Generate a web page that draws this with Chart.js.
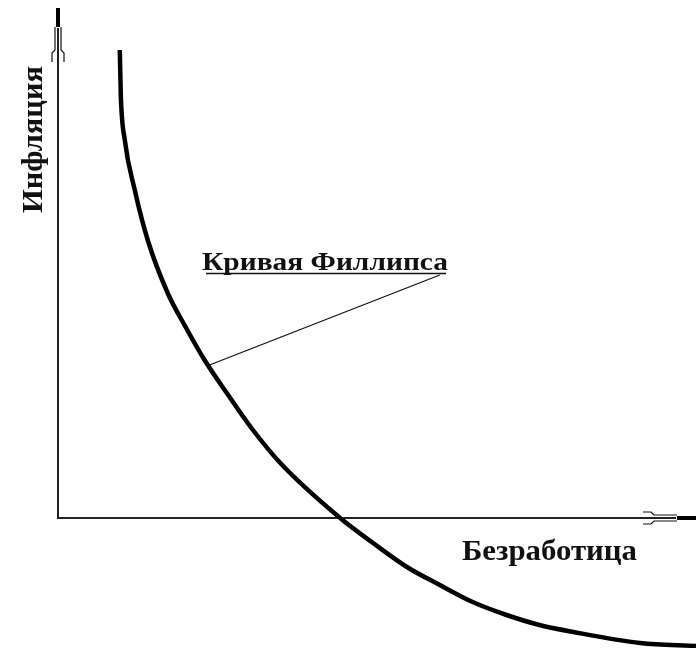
<!DOCTYPE html>
<html>
<head>
<meta charset="utf-8">
<script src="https://cdn.jsdelivr.net/npm/chart.js@4"></script>
<style>
  html, body { margin: 0; padding: 0; background: #fff; }
  #wrap { width: 696px; height: 648px; }
</style>
</head>
<body>
<div id="wrap"><canvas id="chart" width="696" height="648"></canvas></div>
<script>
// Phillips curve (axis units, origin at the axes' corner)
const curveX = [6.2, 6.3, 6.7, 7.7, 9.0, 11.0, 12.8, 14.7, 17.0, 19.4, 22.3, 28.3, 31.6, 35.0, 38.3, 41.6, 45.0, 48.3, 51.7, 58.4, 64.0];
const curveY = [46.8, 42.3, 37.8, 32.8, 27.8, 22.5, 19.1, 15.8, 12.4, 9.0, 5.5, 0, -2.5, -4.9, -6.7, -8.4, -9.7, -10.7, -11.4, -12.5, -12.8];

// leader line from the caption to the curve
const leaderX = [38.3, 15.2];
const leaderY = [24.3, 15.3];

const xTitle = "Безработица";
const yTitle = "Инфляция";
const curveTitle = "Кривая Филлипса";

const xRange = [0, 64];
const yRange = [-13, 51];

const toPoints = (xs, ys) => xs.map((x, i) => ({ x, y: ys[i] }));

// draw text squeezed/stretched horizontally to a given width
function fillFit(ctx, text, x, y, width) {
  const w = ctx.measureText(text).width;
  ctx.save();
  ctx.translate(x, y);
  ctx.scale(width / w, 1);
  ctx.fillText(text, 0, 0);
  ctx.restore();
}

const axesPlugin = {
  id: "axes",
  beforeDatasetsDraw(chart) {
    const { ctx } = chart;
    const sx = chart.scales.x, sy = chart.scales.y;
    const ox = sx.getPixelForValue(0);
    const oy = sy.getPixelForValue(0);
    const top = sy.getPixelForValue(yRange[1]);
    const right = sx.getPixelForValue(xRange[1]);

    ctx.save();
    ctx.strokeStyle = "#222";
    ctx.lineWidth = 2;
    ctx.beginPath();
    ctx.moveTo(ox, oy + 1);
    ctx.lineTo(ox, top + 20);
    ctx.moveTo(ox - 1, oy);
    ctx.lineTo(right - 20, oy);
    ctx.stroke();

    // thick tips
    ctx.lineWidth = 4;
    ctx.strokeStyle = "#000";
    ctx.beginPath();
    ctx.moveTo(ox, top);
    ctx.lineTo(ox, top + 19);
    ctx.moveTo(right - 19, oy);
    ctx.lineTo(right, oy);
    ctx.stroke();

    // double-line arrowheads
    ctx.lineWidth = 1.2;
    ctx.strokeStyle = "#111";
    ctx.beginPath();
    ctx.moveTo(ox - 3, top + 19); ctx.lineTo(ox - 3, top + 42);
    ctx.lineTo(ox - 6, top + 45); ctx.lineTo(ox - 6, top + 54);
    ctx.moveTo(ox + 3, top + 19); ctx.lineTo(ox + 3, top + 42);
    ctx.lineTo(ox + 6, top + 45); ctx.lineTo(ox + 6, top + 54);
    ctx.moveTo(right - 19, oy - 3); ctx.lineTo(right - 42, oy - 3);
    ctx.lineTo(right - 45, oy - 6); ctx.lineTo(right - 53, oy - 6);
    ctx.moveTo(right - 19, oy + 3); ctx.lineTo(right - 42, oy + 3);
    ctx.lineTo(right - 45, oy + 6); ctx.lineTo(right - 53, oy + 6);
    ctx.stroke();
    ctx.restore();
  },
  afterDatasetsDraw(chart) {
    const { ctx } = chart;
    ctx.save();
    ctx.fillStyle = "#111";
    ctx.textBaseline = "alphabetic";
    ctx.textAlign = "left";
    ctx.font = "bold 30px 'Liberation Serif', 'Times New Roman', serif";

    // y title, rotated, reads bottom to top
    ctx.save();
    ctx.translate(42, 213);
    ctx.rotate(-Math.PI / 2);
    fillFit(ctx, yTitle, 0, 0, 147);
    ctx.restore();

    // x title
    fillFit(ctx, xTitle, 462, 560, 175);

    // curve caption with underline
    ctx.font = "bold 25px 'Liberation Serif', 'Times New Roman', serif";
    const cx = 202, cy = 270;
    fillFit(ctx, curveTitle, cx, cy, 246);
    ctx.strokeStyle = "#111";
    ctx.lineWidth = 1.5;
    ctx.beginPath();
    ctx.moveTo(cx + 4, cy + 3.5);
    ctx.lineTo(cx + 244, cy + 3.5);
    ctx.stroke();
    ctx.restore();
  }
};

new Chart(document.getElementById("chart"), {
  type: "scatter",
  data: {
    datasets: [
      {
        data: toPoints(curveX, curveY),
        showLine: true,
        borderColor: "#000",
        borderWidth: 4.5,
        pointRadius: 0,
        cubicInterpolationMode: "monotone",
        clip: false
      },
      {
        data: toPoints(leaderX, leaderY),
        showLine: true,
        borderColor: "#111",
        borderWidth: 1.3,
        pointRadius: 0,
        tension: 0,
        clip: false
      }
    ]
  },
  options: {
    responsive: false,
    animation: false,
    layout: { padding: { left: 58, top: 8, right: 0, bottom: 0 } },
    plugins: { legend: { display: false }, tooltip: { enabled: false } },
    scales: {
      x: { type: "linear", min: xRange[0], max: xRange[1], display: false },
      y: { type: "linear", min: yRange[0], max: yRange[1], display: false }
    }
  },
  plugins: [axesPlugin]
});
</script>
</body>
</html>
